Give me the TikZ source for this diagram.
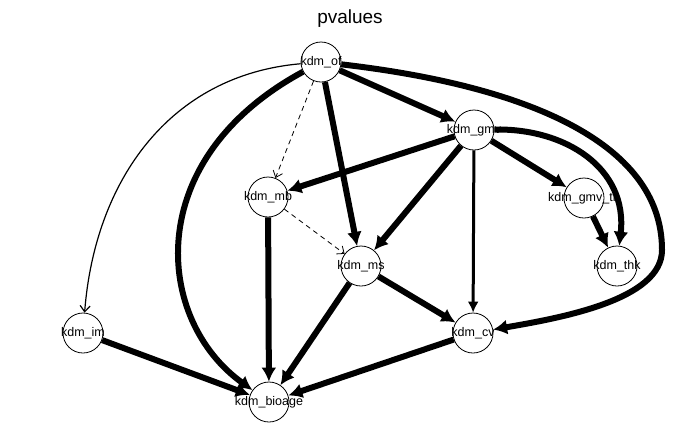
\documentclass[tikz,border=0pt]{standalone}
\usepackage{fontspec}
\setmainfont{Liberation Sans}
\usetikzlibrary{arrows.meta}

\begin{document}
\begin{tikzpicture}[x=1pt,y=-1pt,
  var node/.style={circle,draw,line width=0.8pt,fill=white,minimum size=40pt,inner sep=0pt},
  every label/.style={font=\fontsize{12.5pt}{15pt}\selectfont,inner sep=0pt},
  strong edge/.style={line width=6pt,-{Latex[length=14pt,width=15pt]}},
  medium edge/.style={line width=3pt,-{Latex[length=11pt,width=11pt]}},
  thin edge/.style={line width=1.2pt,-{Straight Barb[length=6pt,width=10pt]}},
  dash edge/.style={thin edge,line width=0.8pt,dash pattern=on 5pt off 4pt}]

  \useasboundingbox (0,0) rectangle (700,432);
  \node[font=\fontsize{19pt}{22pt}\selectfont] (title) at (350,19) {pvalues};

  \node[var node,label=center:{kdm\_of}] (of) at (321,62) {};
  \node[var node,label=center:{kdm\_gmv}] (gmv) at (474,130) {};
  \node[var node,label=center:{kdm\_mb}] (mb) at (268,197) {};
  \node[var node,label=center:{kdm\_gmv\_th}] (gmvth) at (584,198) {};
  \node[var node,label=center:{kdm\_ms}] (ms) at (361,266) {};
  \node[var node,label=center:{kdm\_thk}] (thk) at (617,266) {};
  \node[var node,label=center:{kdm\_im}] (im) at (83,333) {};
  \node[var node,label=center:{kdm\_cv}] (cv) at (473,333) {};
  \node[var node,label=center:{kdm\_bioage}] (bioage) at (269,402) {};

  \path
    (of) edge[strong edge] (gmv)
    (of) edge[strong edge] (ms)
    (of) edge[dash edge] (mb)
    (gmv) edge[strong edge] (mb)
    (gmv) edge[strong edge] (ms)
    (gmv) edge[strong edge] (gmvth)
    (gmv) edge[medium edge] (cv)
    (gmvth) edge[strong edge] (thk)
    (mb) edge[dash edge] (ms)
    (mb) edge[strong edge] (bioage)
    (ms) edge[strong edge] (bioage)
    (ms) edge[strong edge] (cv)
    (im) edge[strong edge] (bioage)
    (cv) edge[strong edge] (bioage);

  % curved ones
  \draw[thin edge] (of) .. controls (170,75) and (95,180) .. (im);
  \draw[strong edge] (of) .. controls (140,160) and (155,320) .. (bioage);
  \draw[strong edge] (of) .. controls (520,85) and (662,140) .. (662,250)
    .. controls (662,300) and (560,318) .. (cv);
  \draw[strong edge] (gmv) .. controls (565,128) and (628,168) .. (thk);
\end{tikzpicture}
\end{document}
